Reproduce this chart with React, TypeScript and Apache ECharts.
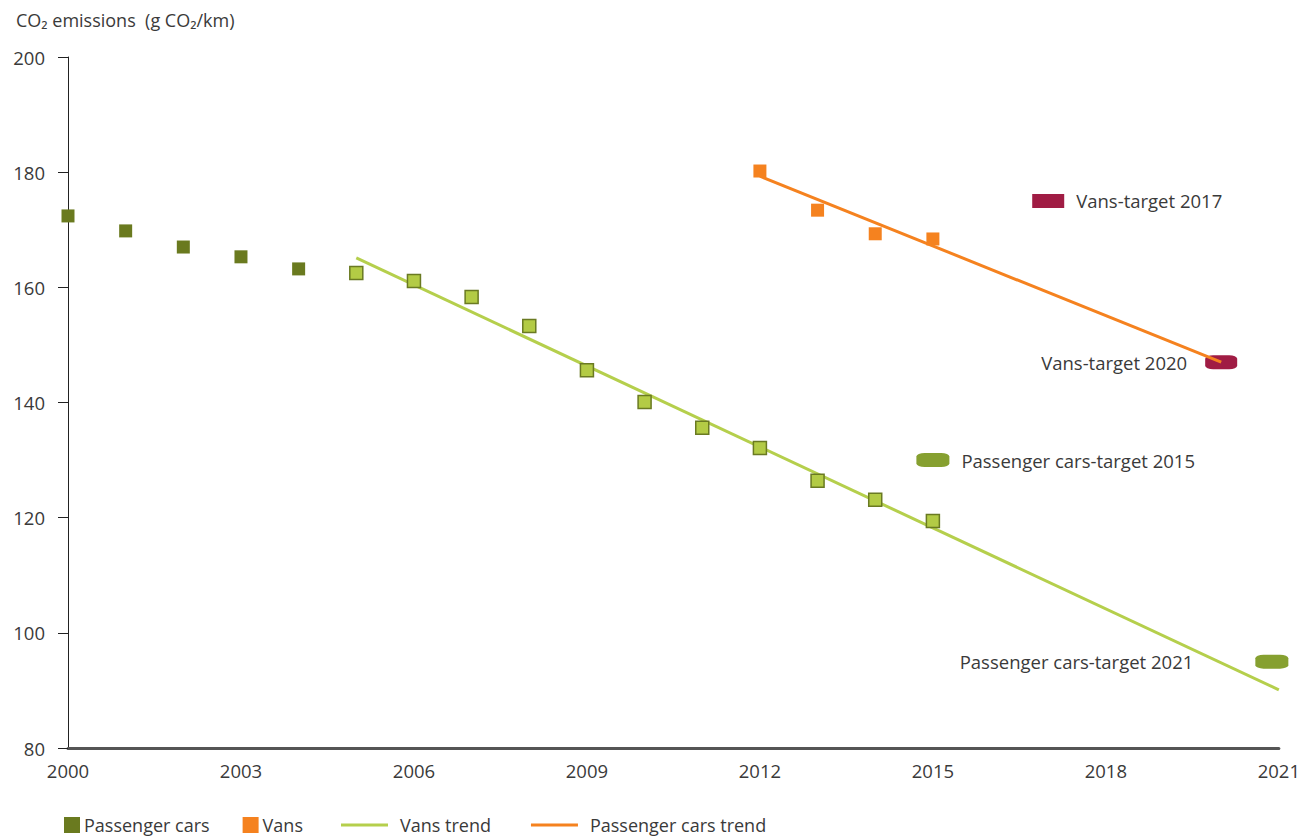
import React, { useEffect, useRef } from "react";
import * as echarts from "echarts";

const years = [2000, 2001, 2002, 2003, 2004, 2005, 2006, 2007, 2008, 2009, 2010, 2011, 2012, 2013, 2014, 2015];
const carValues = [172.4, 169.8, 167.0, 165.3, 163.2, 162.5, 161.1, 158.3, 153.3, 145.6, 140.1, 135.6, 132.1, 126.4, 123.1, 119.4];
const vanYears = [2012, 2013, 2014, 2015];
const vanValues = [180.2, 173.4, 169.3, 168.4];
const carTrend = [[2005, 165.1], [2021, 90.1]];
const vanTrend = [[2012, 179.3], [2020, 147.0]];
const vanTargets = [
  { name: "Vans-target 2017", year: 2017, value: 175 },
  { name: "Vans-target 2020", year: 2020, value: 147 },
];
const carTargets = [
  { name: "Passenger cars-target 2015", year: 2015, value: 130 },
  { name: "Passenger cars-target 2021", year: 2021, value: 95 },
];
const xTicks = { min: 2000, max: 2021, interval: 3 };
const yTicks = { min: 80, max: 200, interval: 20 };

const FONT = "'Open Sans', sans-serif";
const TXT = "#3a3a3a";
const FS = 18.5;

export default function App() {
  const ref = useRef<HTMLDivElement>(null);
  useEffect(() => {
    if (!ref.current) return;
    const chart = echarts.init(ref.current, null, { renderer: "svg" });
    const carData = years.map((y, i) => {
      const light = y >= 2005;
      return {
        value: [y, carValues[i]],
        itemStyle: light
          ? { color: "#b3cb45", borderColor: "#6a7a22", borderWidth: 1.5, opacity: 1 }
          : { color: "#6a7a1f", opacity: 1 },
      };
    });
    const labelStyle = { show: true, formatter: "{b}", fontFamily: FONT, fontSize: FS, color: TXT };
    const legendText = { fontFamily: FONT, fontSize: 18, lineHeight: 16, color: TXT };
    chart.setOption({
      animation: false,
      textStyle: { fontFamily: FONT },
      grid: { left: 68, right: 15, top: 57, bottom: 92 },
      title: {
        text: "CO₂ emissions  (g CO₂/km)",
        left: 11,
        top: 6,
        textStyle: { fontFamily: FONT, fontSize: 18, fontWeight: "normal", color: TXT },
      },
      legend: [
        {
          data: ["Passenger cars", "Vans"],
          left: 64,
          top: 816,
          padding: 0,
          itemWidth: 16,
          itemHeight: 16,
          itemGap: 33,
          icon: "rect",
          textStyle: { ...legendText, padding: [0, 0, 0, -1] },
        },
        {
          data: ["Vans trend", "Passenger cars trend"],
          left: 341,
          top: 816,
          padding: 0,
          itemWidth: 47,
          itemHeight: 3,
          itemGap: 40,
          icon: "rect",
          textStyle: { ...legendText, padding: [0, 0, 0, 7] },
        },
      ],
      xAxis: {
        type: "value",
        min: xTicks.min,
        max: xTicks.max,
        interval: xTicks.interval,
        axisLine: { show: true, lineStyle: { color: "#555", width: 3 } },
        axisTick: { show: false },
        splitLine: { show: false },
        axisLabel: {
          formatter: (v: number) => String(v),
          fontFamily: FONT,
          fontSize: FS,
          color: TXT,
          margin: 13,
        },
      },
      yAxis: {
        type: "value",
        min: yTicks.min,
        max: yTicks.max,
        interval: yTicks.interval,
        axisLine: { show: true, lineStyle: { color: "#222", width: 1 } },
        axisTick: { show: true, inside: false, length: 10, lineStyle: { color: "#222" } },
        splitLine: { show: false },
        axisLabel: { fontFamily: FONT, fontSize: FS, color: TXT, margin: 23 },
      },
      series: [
        {
          name: "Vans trend",
          type: "line",
          data: carTrend,
          symbol: "none",
          lineStyle: { color: "#b5cf4c", width: 3 },
          itemStyle: { color: "#b5cf4c" },
          z: 2,
        },
        {
          name: "Passenger cars trend",
          type: "line",
          data: vanTrend,
          symbol: "none",
          lineStyle: { color: "#f5821f", width: 3 },
          itemStyle: { color: "#f5821f" },
          z: 2,
        },
        {
          name: "Passenger cars",
          type: "scatter",
          data: carData,
          symbol: "rect",
          symbolSize: 13,
          itemStyle: { color: "#6a7a1f", opacity: 1 },
          z: 3,
        },
        {
          name: "Vans",
          type: "scatter",
          data: vanYears.map((y, i) => [y, vanValues[i]]),
          symbol: "rect",
          symbolSize: 13,
          itemStyle: { color: "#f5821f", opacity: 1 },
          z: 3,
        },
        {
          name: "Vans targets",
          type: "scatter",
          data: [
            {
              name: vanTargets[0].name,
              value: [vanTargets[0].year, vanTargets[0].value],
              symbol: "rect",
              label: { position: "right", distance: 12 },
            },
            {
              name: vanTargets[1].name,
              value: [vanTargets[1].year, vanTargets[1].value],
              symbol: "roundRect",
              label: { position: "left", distance: 18 },
            },
          ],
          symbolSize: [32, 14],
          itemStyle: { color: "#a01c44", opacity: 1 },
          label: labelStyle,
          z: 1,
        },
        {
          name: "Passenger cars targets",
          type: "scatter",
          data: [
            {
              name: carTargets[0].name,
              value: [carTargets[0].year, carTargets[0].value],
              label: { position: "right", distance: 12 },
            },
            {
              name: carTargets[1].name,
              value: [carTargets[1].year, carTargets[1].value],
              symbolOffset: [-7, 0],
              label: { position: "left", distance: 62 },
            },
          ],
          symbol: "roundRect",
          symbolSize: [33, 14],
          itemStyle: { color: "#86a030", opacity: 1 },
          label: labelStyle,
          z: 1,
        },
      ],
    });
    return () => chart.dispose();
  }, []);
  return <div ref={ref} style={{ width: 1303, height: 840, position: "absolute", left: 0, top: 0 }} />;
}
